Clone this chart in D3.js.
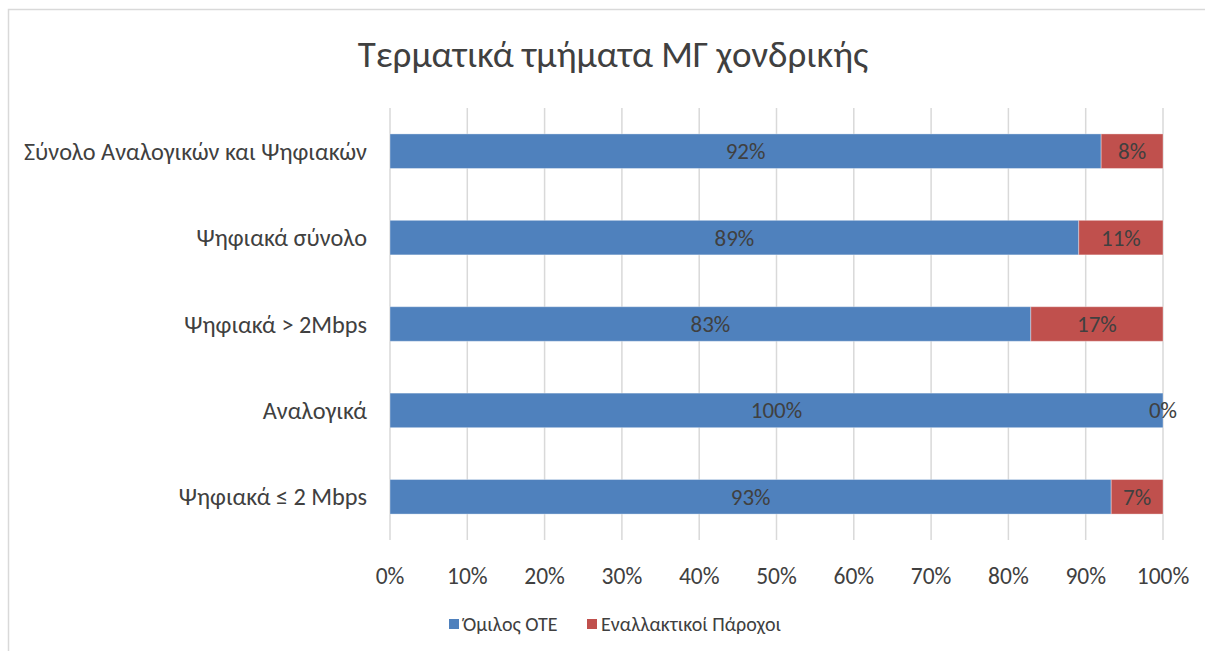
<!DOCTYPE html>
<html>
<head>
<meta charset="utf-8">
<script src="https://cdn.jsdelivr.net/npm/d3@7"></script>
<style>
	body { margin: 0; background: #fff; }
	svg { display: block; }
</style>
</head>
<body>
<div id="chart"></div>
<script>
// Data
const categories = ['Σύνολο Αναλογικών και Ψηφιακών', 'Ψηφιακά σύνολο', 'Ψηφιακά > 2Mbps', 'Αναλογικά', 'Ψηφιακά ≤ 2 Mbps'];
const oteShare = [92.0, 89.1, 82.9, 100, 93.3];
const altShare = [8.0, 10.9, 17.1, 0, 6.7];
const seriesNames = ['Όμιλος ΟΤΕ', 'Εναλλακτικοί Πάροχοι'];
const xTicks = [0, 10, 20, 30, 40, 50, 60, 70, 80, 90, 100];
const title = 'Τερματικά τμήματα ΜΓ χονδρικής';

const width = 1205,
	height = 651,
	margin = {top: 108, right: 42, bottom: 111, left: 390},
	textColor = '#404040',
	gridColor = '#d9d9d9',
	colors = ['#4f81bd', '#c0504d'],
	font = 'Carlito, Calibri, "Open Sans", sans-serif';

const rows = categories.map((c, i) => ({cat: c, ote: oteShare[i], alt: altShare[i]}));

const svg = d3.select('#chart').append('svg')
	.attr('width', width)
	.attr('height', height)
	.style('font-family', font);

// chart frame
svg.append('rect')
	.attr('x', 8.5).attr('y', 9.5)
	.attr('width', 1200).attr('height', 680)
	.attr('fill', 'none')
	.attr('stroke', gridColor)
	.attr('stroke-width', 1.5);

const x = d3.scaleLinear()
	.domain([0, 100])
	.range([margin.left, width - margin.right]);

const y = d3.scaleBand()
	.domain(categories)
	.range([margin.top, height - margin.bottom])
	.paddingInner(0.6)
	.paddingOuter(0.3);

// gridlines
svg.append('g')
	.selectAll('line')
	.data(xTicks)
	.join('line')
	.attr('x1', d => x(d)).attr('x2', d => x(d))
	.attr('y1', margin.top).attr('y2', height - margin.bottom)
	.attr('stroke', gridColor)
	.attr('stroke-width', 1.5);

// x tick labels
svg.append('g')
	.selectAll('text')
	.data(xTicks)
	.join('text')
	.attr('x', d => x(d))
	.attr('y', 584)
	.attr('text-anchor', 'middle')
	.style('font-size', '23.5px')
	.style('fill', textColor)
	.text(d => d + '%');

// category labels
svg.append('g')
	.selectAll('text')
	.data(categories)
	.join('text')
	.attr('x', margin.left - 23)
	.attr('y', d => y(d) + y.bandwidth() / 2)
	.attr('dy', '0.35em')
	.attr('text-anchor', 'end')
	.style('font-size', '24.3px')
	.style('fill', textColor)
	.text(d => d);

// stacked bars
const stack = d3.stack().keys(['ote', 'alt'])(rows);

const layers = svg.append('g')
	.selectAll('g')
	.data(stack)
	.join('g')
	.attr('fill', (d, i) => colors[i]);

layers.selectAll('rect')
	.data(d => d)
	.join('rect')
	.attr('x', d => x(d[0]))
	.attr('y', d => y(d.data.cat))
	.attr('width', d => x(d[1]) - x(d[0]))
	.attr('height', y.bandwidth())
	.attr('stroke', '#ffffff')
	.attr('stroke-opacity', 0.35)
	.attr('stroke-width', 1);

// data labels
layers.selectAll('text')
	.data(d => d)
	.join('text')
	.attr('x', d => (x(d[0]) + x(d[1])) / 2)
	.attr('y', d => y(d.data.cat) + y.bandwidth() / 2)
	.attr('dy', '0.35em')
	.attr('text-anchor', 'middle')
	.style('font-size', '23px')
	.style('fill', textColor)
	.text(d => Math.round(d[1] - d[0]) + '%');

// title
svg.append('text')
	.attr('x', 613)
	.attr('y', 67)
	.attr('text-anchor', 'middle')
	.style('font-size', '37px')
	.style('fill', textColor)
	.text(title);

// legend
const legendPos = [449, 587];
const legend = svg.append('g')
	.selectAll('g')
	.data(seriesNames)
	.join('g')
	.attr('transform', (d, i) => `translate(${legendPos[i]}, 619)`);

legend.append('rect')
	.attr('width', 10).attr('height', 10)
	.attr('fill', (d, i) => colors[i]);

legend.append('text')
	.attr('x', 14)
	.attr('y', 5)
	.attr('dy', '0.35em')
	.style('font-size', '20px')
	.style('fill', textColor)
	.text(d => d);
</script>
</body>
</html>
